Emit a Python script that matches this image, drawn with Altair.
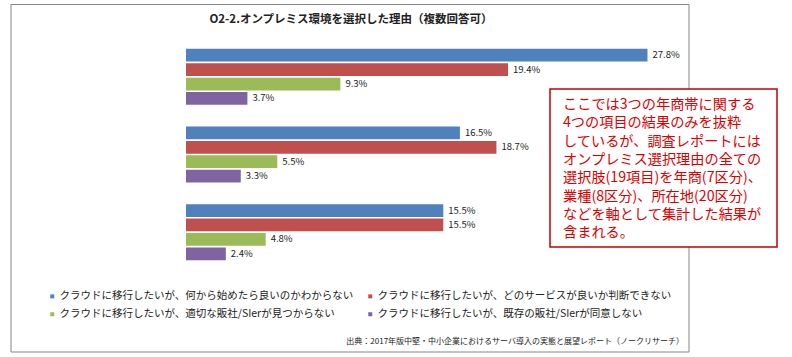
import altair as alt
import pandas as pd

# ---- data ----
categories = [
    "5億円以上～30億円未満(n=108)",
    "30億円以上～50億円未満(n=91)",
    "50億円以上～100億円未満(n=84)",
]
series = [
    "クラウドに移行したいが、何から始めたら良いのかわからない",
    "クラウドに移行したいが、どのサービスが良いか判断できない",
    "クラウドに移行したいが、適切な販社/SIerが見つからない",
    "クラウドに移行したいが、既存の販社/SIerが同意しない",
]
s1_values = [27.8, 16.5, 15.5]
s2_values = [19.4, 18.7, 15.5]
s3_values = [9.3, 5.5, 4.8]
s4_values = [3.7, 3.3, 2.4]
grid_values = [0, 5, 10, 15, 20, 25, 30]

colors = ["#4F81BD", "#C0504D", "#9BBB59", "#8064A2"]

title_text = "O2-2.オンプレミス環境を選択した理由（複数回答可）"
source_text = "出典：2017年版中堅・中小企業におけるサーバ導入の実態と展望レポート（ノークリサーチ）"
note_lines = [
    "ここでは3つの年商帯に関する",
    "4つの項目の結果のみを抜粋",
    "しているが、調査レポートには",
    "オンプレミス選択理由の全ての",
    "選択肢(19項目)を年商(7区分)、",
    "業種(8区分)、所在地(20区分)",
    "などを軸として集計した結果が",
    "含まれる。",
]

rows = []
for name, vals in zip(series, [s1_values, s2_values, s3_values, s4_values]):
    for c, v in zip(categories, vals):
        rows.append({"category": c, "series": name, "value": v})
df = pd.DataFrame(rows)
one = pd.DataFrame({"k": [0]})

FONT = "Noto Sans CJK JP"
W, H = 498, 233
L, T = 186, 38

base = alt.Chart(df).encode(
    y=alt.Y(
        "category:N",
        sort=categories,
        scale=alt.Scale(paddingInner=0.28, paddingOuter=0.14),
        axis=alt.Axis(
            title=None,
            tickBand="extent",
            domainColor="#868686",
            tickColor="#868686",
            tickSize=4,
            labelPadding=5,
            labelFont=FONT,
            labelFontSize=10,
            labelColor="#222222",
            labelLimit=400,
        ),
    ),
    yOffset=alt.YOffset("series:N", sort=series, scale=alt.Scale(paddingInner=0.12)),
    x=alt.X(
        "value:Q",
        scale=alt.Scale(domain=[0, 30], nice=False),
        axis=alt.Axis(
            title=None,
            labels=False,
            ticks=False,
            domain=False,
            grid=True,
            values=grid_values,
            gridColor="#9a9a9a",
            gridWidth=1,
        ),
    ),
)

bars = base.mark_bar().encode(
    color=alt.Color(
        "series:N",
        sort=series,
        scale=alt.Scale(domain=series, range=colors),
        legend=alt.Legend(
            title=None,
            orient="none",
            direction="horizontal",
            legendX=-139,
            legendY=253,
            columns=2,
            symbolType="square",
            symbolSize=16,
            symbolStrokeWidth=0,
            labelFont=FONT,
            labelFontSize=10.5,
            labelColor="#222222",
            labelLimit=400,
            labelOffset=2,
            columnPadding=11,
            rowPadding=7,
        ),
    )
)

labels = base.transform_calculate(
    label="format(datum.value, '.1f') + '%'"
).mark_text(
    align="left", baseline="middle", dx=5, font=FONT, fontSize=9.5, color="#222222"
).encode(text="label:N")

frame = alt.Chart(one).mark_rect(fill="white", stroke="#868686", strokeWidth=1).encode(
    x=alt.value(11 - L), x2=alt.value(689 - L), y=alt.value(4.5 - T), y2=alt.value(352 - T)
)

note_box = alt.Chart(one).mark_rect(fill="white", stroke="#C00000", strokeWidth=1.5).encode(
    x=alt.value(550 - L), x2=alt.value(777 - L), y=alt.value(89 - T), y2=alt.value(247 - T)
)

note_text = alt.Chart(one).mark_text(
    text=note_lines,
    align="left",
    baseline="middle",
    font=FONT,
    fontSize=14.2,
    lineHeight=18.3,
    color="#E00000",
).encode(x=alt.value(563 - L), y=alt.value(105 - T))

title = alt.Chart(one).mark_text(
    text=title_text,
    align="center",
    baseline="middle",
    font=FONT,
    fontSize=11.5,
    fontWeight="bold",
    color="#222222",
).encode(x=alt.value(351 - L), y=alt.value(20 - T))

source = alt.Chart(one).mark_text(
    text=source_text,
    align="right",
    baseline="middle",
    font=FONT,
    fontSize=8,
    color="#222222",
).encode(x=alt.value(684 - L), y=alt.value(342 - T))

chart = alt.layer(frame, bars, labels, note_box, note_text, title, source).properties(
    width=W,
    height=H,
    padding={"left": L, "top": T, "right": 792 - L - W, "bottom": 357 - T - H},
    autosize=alt.AutoSizeParams(type="none"),
    background="white",
).configure_view(stroke=None)

chart.save("out.html", embed_options={"renderer": "svg", "actions": False})
